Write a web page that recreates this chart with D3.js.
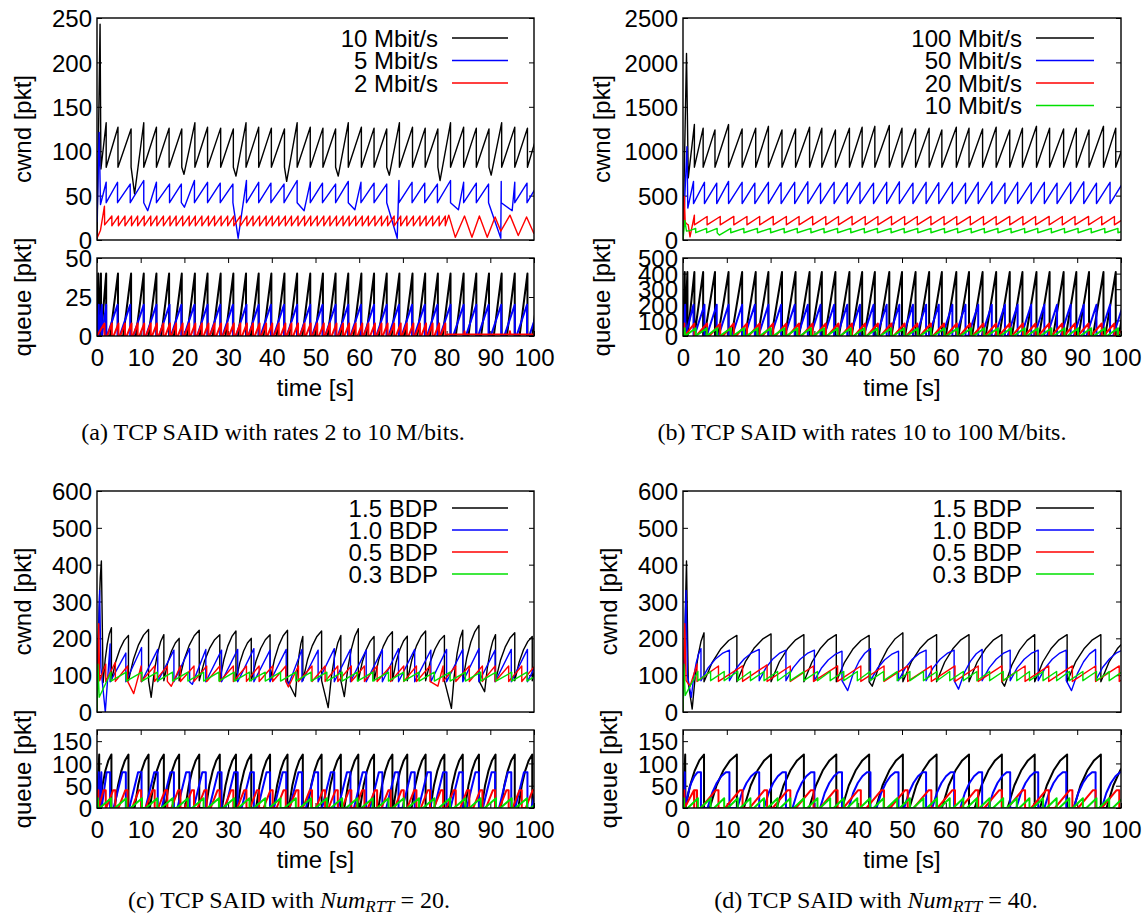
<!DOCTYPE html>
<html><head><meta charset="utf-8">
<script src="https://cdn.jsdelivr.net/npm/d3@7/dist/d3.min.js"></script>
<style>
body{margin:0;background:#fff;}
svg{display:block;}
.tick text{font-family:"Liberation Sans",Arial,sans-serif;font-size:24px;fill:#000;}
</style></head>
<body><svg id="chart" width="1148" height="918"></svg>
<script>
// ---------------- DATA ----------------
const xTicks = [0,10,20,30,40,50,60,70,80,90,100];
const aCwndTicks = [0,50,100,150,200,250];
const aQueueTicks = [0,25,50];
const bCwndTicks = [0,500,1000,1500,2000,2500];
const bQueueTicks = [0,100,200,300,400,500];
const cCwndTicks = [0,100,200,300,400,500,600];
const cQueueTicks = [0,50,100,150];

const aLegend = ["10 Mbit/s","5 Mbit/s","2 Mbit/s"];
const bLegend = ["100 Mbit/s","50 Mbit/s","20 Mbit/s","10 Mbit/s"];
const cLegend = ["1.5 BDP","1.0 BDP","0.5 BDP","0.3 BDP"];

// ---- panel (a) ----
const a10Start = [[0,0],[0.7,243],[0.9,80]];
const a10Drops = [2.1,4.8,7.8,10.7,13.6,16.5,19.4,22.4,25.3,28.3,31.2,34.1,37.0,39.9,42.9,45.8,48.8,51.7,54.6,57.5,60.5,63.4,66.3,69.2,72.2,75.1,78.0,80.9,83.9,86.8,89.7,92.6,95.6,98.5,101.4];
const a10Peaks = [132,127,125,132,127,126,125,132,127,126,125,132,127,126,125,132,127,126,125,132,127,126,125,132,127,126,125,132,127,126,125,132,127,126,130];
const a10Low = [82];
const a10DipT = [8.6,19.9,31.8,43.4,55.2,66.9,78.5,90.2];
const a10DipV = [52,74,72,66,72,73,67,73];

const a5Start = [[0,20],[0.5,121],[0.8,40]];
const a5Drops = [2.1,4.7,7.6,10.7,13.6,16.6,19.3,22.3,25.3,28.2,31.1,34.2,37.0,39.8,42.8,45.8,48.8,51.6,54.6,57.5,60.4,63.4,66.3,69.1,72.1,75.0,77.9,80.9,83.9,86.8,89.6,92.5,95.6,98.4,101.3];
const a5Peaks = [65,65,63,67,65,63,63,67,65,64,63,67,65,64,63,67,65,64,63,66,65,64,63,67,65,64,63,67,65,64,63,66,65,64,66];
const a5Low = [42];
const a5DipT = [11.6,20.0,32.3,47.4,59.0,68.7,82.7,92.4,95.0];
const a5DipV = [33,37,2,33,34,2,34,2,33];

const a2Start = [[0,2],[0.8,11],[1.7,38],[1.75,17]];
const a2Drops = [3.4,4.9,6.4,7.9,9.3,10.8,12.3,13.7,15.2,16.7,18.1,19.6,21.1,22.5,24.0,25.5,26.9,28.4,29.9,31.3,32.8,34.3,35.7,37.2,38.7,40.1,41.6,43.1,44.5,46.0,47.5,48.9,50.4,51.9,53.3,54.8,56.3,57.7,59.2,60.7,62.1,63.6,65.1,66.5,68.0,69.5,70.9,72.4,73.9,75.3,76.8,78.3,79.7];
const a2Peaks = [27];
const a2Low = [16];
const a2Tail = [[80.5,28],[82.0,3],[84.1,27],[85.8,3],[87.5,27],[89.3,3],[91.1,26],[92.4,10],[94.5,28],[96.4,5],[98.3,26],[100,7]];

const a10QStart = [[0,0],[0.3,40],[0.35,0],[0.9,40],[0.95,0]];
const a5QStart = [[0,0],[0.4,20],[0.45,0],[1.1,20],[1.15,0]];
const a2QStart = [[0,0],[1.7,8],[1.75,0]];
const a2QTail = [[80.2,1],[84.0,1],[84.1,3],[84.2,1],[94.4,1],[94.5,3],[94.6,1],[100,1]];
const aQueueMax = [40,20,8];
const aQueueRise = [1.8,2.4,1.1];

// ---- panel (b) ----
const b100Start = [[0,0],[0.8,2100],[1.2,700]];
const b100Drops = [2.6,4.6,7.3,10.4,13.5,16.6,19.5,22.6,25.7,28.9,31.7,34.8,38.0,40.9,43.8,47.1,50.0,53.1,56.2,59.1,62.4,65.3,68.4,71.5,74.6,77.5,80.7,83.7,86.9,89.8,92.7,96.0,98.8,101.9];
const b100Peaks = [1300,1260,1240,1300,1250,1260,1280,1240,1250,1270,1260,1240,1260,1270,1280,1290,1260,1250,1260,1240,1270,1260,1250,1270,1240,1260,1280,1260,1250,1260,1240,1280,1260,1260];
const b100Low = [820];

const b50Start = [[0,0],[0.9,1050],[1.1,360]];
const b50Drops = [2.4,4.9,7.7,10.4,13.5,16.4,19.5,22.4,25.5,28.5,31.4,34.5,37.5,40.4,43.5,46.5,49.4,52.5,55.5,58.4,61.5,64.5,67.4,70.5,73.5,76.4,79.5,82.5,85.4,88.5,91.5,94.4,97.5,100.5];
const b50Peaks = [660,650,640,660,650,640,650,645,650,655,640,650,645,650,640,650,655,640,650,645,650,640,650,655,640,650,645,650,640,650,655,640,650,650];
const b50Low = [410];

const b20Start = [[0,0],[0.3,490],[0.5,200],[0.9,180],[1.2,170],[1.6,35]];
const b20Drops = [2.6,5.5,8.5,11.6,14.6,17.5,20.6,23.6,26.5,29.6,32.6,35.5,38.6,41.6,44.5,47.6,50.6,53.5,56.6,59.6,62.5,65.6,68.6,71.5,74.6,77.6,80.5,83.6,86.6,89.5,92.6,95.6,98.5,101.5];
const b20Peaks = [280,265,265,265,265,265,265,265,265,265,265,265,265,265,265,265,265,265,265,265,265,265,265,265,265,265,265,265,265,265,265,265,265,265];
const b20Low = [170];

const b10Start = [[0,0],[0.4,220],[0.8,100],[1.5,105]];
const b10Drops = [2.9,5.4,7.8,10.9,13.9,17.0,20.0,23.1,26.1,29.2,32.2,35.3,38.3,41.4,44.4,47.5,50.5,53.6,56.6,59.7,62.7,65.8,68.8,71.9,74.9,78.0,81.0,84.1,87.1,90.2,93.2,96.3,99.3,102.4];
const b10Peaks = [130];
const b10Low = [82];
const b10DipT = [8.3];
const b10DipV = [55];

const b100QStart = [[0,0],[0.4,410],[0.45,0],[1.0,410],[1.05,0]];
const b50QStart = [[0,0],[0.5,200],[0.55,0]];
const b20QStart = [[0,0],[0.3,80],[0.35,0]];
const b10QStart = [[0,0],[0.4,50],[0.45,0]];
const bQueueMax = [410,200,80,50];
const bQueueRise = [2.4,2.3,2.5,2.5];

// ---- panel (c) ----
const c15Start = [[0,0],[1.0,410],[1.4,80]];
const c15Drops = [3.3,7.2,11.8,15.3,18.8,23.4,28.1,31.8,35.3,39.6,43.6,47.1,51.4,55.8,59.8,63.4,67.6,71.0,75.2,79.5,83.7,87.4,91.2,95.6,99.6,103.6];
const c15Peaks = [229,208,224,210,200,222,210,220,200,210,222,205,220,208,226,205,218,206,220,208,222,235,210,215,205,210];
const c15Low = [85];
const c15DipT = [12.4,45.4,52.9,56.6,81.1,88.7];
const c15DipV = [40,42,12,42,10,55];

const c10Start = [[0,0],[0.6,330],[0.9,120],[1.9,0]];
const c10Drops = [3.0,6.6,10.2,13.9,17.6,21.2,24.9,28.5,32.2,35.9,39.6,43.3,46.9,50.6,54.3,58.0,61.6,65.3,69.0,72.7,76.4,80.0,83.7,87.4,91.1,94.8,98.5,102.2];
const c10Peaks = [185,160,175,170,168,172,170,168,170,172,168,170,170,168,172,170,168,170,172,170,168,170,170,172,168,170,170,170];
const c10Low = [82];
const c10DipT = [21.8,43.9];
const c10DipV = [75,76];

const c05Start = [[0,0],[0.4,240],[0.6,85]];
const c05Drops = [2.0,4.2,7.0,10.1,13.2,16.1,19.1,22.2,25.1,28.1,31.2,34.2,37.1,40.2,43.2,46.1,49.2,52.2,55.1,58.2,61.2,64.1,67.2,70.2,73.1,76.2,79.2,82.1,85.2,88.2,91.1,94.2,97.2,100.2];
const c05Peaks = [130,135,125,125,125,125,125,125,125,125,125,125,125,125,125,125,125,125,125,125,125,125,125,125,125,125,125,125,125,125,125,125,125,125];
const c05Low = [83];
const c05DipT = [8.4,17.0,43.8,78.0];
const c05DipV = [50,70,68,70];

const c03Start = [[0,0],[0.2,130],[0.5,40]];
const c03Drops = [3.2,6.7,10.3,13.8,17.3,20.8,24.4,27.9,31.4,34.9,38.5,42.0,45.5,49.0,52.6,56.1,59.6,63.1,66.7,70.2,73.7,77.2,80.8,84.3,87.8,91.3,94.9,98.4,101.9];
const c03Peaks = [108];
const c03Low = [84];

const c15QStart = [[0,0],[0.5,120],[0.55,0]];
const c10QStart = [[0,0],[0.4,80],[0.45,0],[1.0,80],[1.05,0]];
const c05QStart = [[0,0],[0.3,40],[0.35,0]];
const c03QStart = [[0,0],[0.2,22],[0.25,0]];
const cQueueMax = [120,80,40,22];
const cQueueRise = [3.2,2.0,1.6,2.6];
const cQueueHold = [0,0.8,0.5,0];

// ---- panel (d) ----
const d15Start = [[0,0],[0.8,410],[1.2,80],[2.1,8]];
const d15Drops = [4.8,12.3,20.1,27.6,35.0,42.5,50.2,57.9,65.3,72.8,80.3,87.7,95.4,102.9];
const d15Peaks = [215,208,212,210,210,208,215,210,210,210,210,210,210,210];
const d15Low = [82];
const d15DipT = [43.2,73.4];
const d15DipV = [70,70];

const d10Start = [[0,0],[0.7,330],[1.0,100],[1.9,40]];
const d10Drops = [4.1,10.6,17.4,23.5,30.0,36.3,42.8,49.2,55.5,61.9,68.3,74.7,81.1,87.5,94.2,100.6];
const d10Peaks = [172,168,170,168,168,165,172,165,168,168,170,168,168,168,170,170];
const d10Low = [85];
const d10DipT = [37.6,62.9,88.7];
const d10DipV = [58,62,58];

const d05Start = [[0,0],[0.4,240],[0.7,85],[1.6,70]];
const d05Drops = [3.2,8.1,13.6,19.2,24.5,29.8,35.3,40.6,45.9,51.3,56.7,62.1,67.4,72.8,78.1,83.5,88.9,94.2,99.6,105.0];
const d05Peaks = [130,125,125,128,125,125,125,125,125,125,125,125,125,125,125,125,125,125,125,125];
const d05Low = [83];

const d03Start = [[0,0],[0.2,130],[0.5,45]];
const d03Drops = [3.4,6.3,9.4,12.5,15.4,18.5,21.6,24.5,27.6,30.7,33.6,36.7,39.8,42.7,45.8,48.9,51.8,54.9,58.0,60.9,64.0,67.1,70.0,73.1,76.2,79.1,82.2,85.3,88.2,91.3,94.4,97.3,100.4];
const d03Peaks = [110];
const d03Low = [85];

const d15QStart = [[0,0],[0.5,120],[0.55,0]];
const d10QStart = [[0,0],[0.4,80],[0.45,0]];
const d05QStart = [[0,0],[0.3,40],[0.35,0],[2.5,40],[2.55,0]];
const d03QStart = [[0,0],[0.2,22],[0.25,0]];
const dQueueMax = [120,80,40,22];
const dQueueRise = [6.2,4.2,3.4,2.3];
const dQueueHold = [0,0.8,0.6,0];

// concave growth of a tooth (fraction of tooth time -> fraction of rise), read from (c)/(d)
const concaveShape = [[0.25,0.42],[0.5,0.7],[0.75,0.89]];

const seriesColors = ["#000000","#0000ff","#ff0000","#00e000"];

// ---------------- helpers ----------------
function pick(arr,i){ return arr.length===1 ? arr[0] : arr[i]; }
function shapeRises(pts, shape){
  if(!shape) return pts;
  const out=[pts[0]];
  for(let i=1;i<pts.length;i++){
    const p=pts[i-1], q=pts[i];
    if(q.v>p.v && q.t-p.t>0.8){
      shape.forEach(s=>out.push({t:p.t+s[0]*(q.t-p.t), v:p.v+s[1]*(q.v-p.v)}));
    }
    out.push(q);
  }
  return out;
}
function cwndPoints(start, drops, peaks, lows, dipT, dipV, tail, shape){
  const pts = start.map(p=>({t:p[0],v:p[1]}));
  drops.forEach((d,i)=>{
    pts.push({t:d,v:pick(peaks,i)});
    pts.push({t:d+0.001,v:pick(lows,i)});
  });
  (dipT||[]).forEach((t,i)=>pts.push({t:t,v:dipV[i]}));
  (tail||[]).forEach(p=>pts.push({t:p[0],v:p[1]}));
  pts.sort((a,b)=>a.t-b.t);
  return shapeRises(pts, shape);
}
function queuePoints(start, drops, qmax, rise, hold, tail, shape){
  const pts = start.map(p=>({t:p[0],v:p[1]}));
  let prev = start.length ? start[start.length-1][0] : 0;
  drops.forEach(d=>{
    const s = Math.max(d-hold-rise, prev+0.002);
    pts.push({t:s,v:0});
    pts.push({t:d-hold,v:qmax});
    if(hold>0) pts.push({t:d,v:qmax});
    pts.push({t:d+0.001,v:0});
    prev = d+0.001;
  });
  (tail||[]).forEach(p=>pts.push({t:p[0],v:p[1]}));
  return shapeRises(pts, shape);
}

// ---------------- layout ----------------
const svg = d3.select("#chart");
const FONT = '"Liberation Sans",Arial,sans-serif';
const SERIF = '"Liberation Serif","Times New Roman",serif';
const FS = 24;

const panels = [
 {id:"a", x0:97, x1:534, cTop:18, cBot:240, qTop:258, qBot:336, xLabY:357, timeY:387, capX:273, capY:431, yLabX:22,
  cDom:[0,250], cTicks:aCwndTicks, qDom:[0,50], qTicks:aQueueTicks, legend:aLegend, legTextX:438, legL1:452, legL2:508, legY0:38, legDy:22.5,
  cw:[cwndPoints(a10Start,a10Drops,a10Peaks,a10Low,a10DipT,a10DipV),
      cwndPoints(a5Start,a5Drops,a5Peaks,a5Low,a5DipT,a5DipV),
      cwndPoints(a2Start,a2Drops,a2Peaks,a2Low,[],[],a2Tail)],
  q:[queuePoints(a10QStart,a10Drops,aQueueMax[0],aQueueRise[0],0),
     queuePoints(a5QStart,a5Drops,aQueueMax[1],aQueueRise[1],0),
     queuePoints(a2QStart,a2Drops,aQueueMax[2],aQueueRise[2],0,a2QTail)],
  caption:[{t:"(a) TCP SAID with rates 2 to 10\u2009M/bits."}]},
 {id:"b", x0:683, x1:1121, cTop:18, cBot:240, qTop:258, qBot:336, xLabY:357, timeY:387, capX:862, capY:431, yLabX:601,
  cDom:[0,2500], cTicks:bCwndTicks, qDom:[0,500], qTicks:bQueueTicks, legend:bLegend, legTextX:1022, legL1:1036, legL2:1094, legY0:38, legDy:22.5,
  cw:[cwndPoints(b100Start,b100Drops,b100Peaks,b100Low),
      cwndPoints(b50Start,b50Drops,b50Peaks,b50Low),
      cwndPoints(b20Start,b20Drops,b20Peaks,b20Low),
      cwndPoints(b10Start,b10Drops,b10Peaks,b10Low,b10DipT,b10DipV)],
  q:[queuePoints(b100QStart,b100Drops,bQueueMax[0],bQueueRise[0],0),
     queuePoints(b50QStart,b50Drops,bQueueMax[1],bQueueRise[1],0),
     queuePoints(b20QStart,b20Drops,bQueueMax[2],bQueueRise[2],0),
     queuePoints(b10QStart,b10Drops,bQueueMax[3],bQueueRise[3],0)],
  caption:[{t:"(b) TCP SAID with rates 10 to 100\u2009M/bits."}]},
 {id:"c", x0:97, x1:534, cTop:491, cBot:712, qTop:730, qBot:808, xLabY:829, timeY:859, capX:289, capY:899, yLabX:22,
  cDom:[0,600], cTicks:cCwndTicks, qDom:[0,175], qTicks:cQueueTicks, legend:cLegend, legTextX:438, legL1:452, legL2:508, legY0:508, legDy:22,
  cw:[cwndPoints(c15Start,c15Drops,c15Peaks,c15Low,c15DipT,c15DipV,null,concaveShape),
      cwndPoints(c10Start,c10Drops,c10Peaks,c10Low,c10DipT,c10DipV),
      cwndPoints(c05Start,c05Drops,c05Peaks,c05Low,c05DipT,c05DipV),
      cwndPoints(c03Start,c03Drops,c03Peaks,c03Low)],
  q:[queuePoints(c15QStart,c15Drops,cQueueMax[0],cQueueRise[0],cQueueHold[0],null,concaveShape),
     queuePoints(c10QStart,c10Drops,cQueueMax[1],cQueueRise[1],cQueueHold[1]),
     queuePoints(c05QStart,c05Drops,cQueueMax[2],cQueueRise[2],cQueueHold[2]),
     queuePoints(c03QStart,c03Drops,cQueueMax[3],cQueueRise[3],cQueueHold[3])],
  caption:[{t:"(c) TCP SAID with "},{t:"Num",it:true},{t:"RTT",it:true,sub:true},{t:" = 20."}]},
 {id:"d", x0:683, x1:1121, cTop:491, cBot:712, qTop:730, qBot:808, xLabY:829, timeY:859, capX:876, capY:899, yLabX:608,
  cDom:[0,600], cTicks:cCwndTicks, qDom:[0,175], qTicks:cQueueTicks, legend:cLegend, legTextX:1022, legL1:1036, legL2:1094, legY0:508, legDy:22,
  cw:[cwndPoints(d15Start,d15Drops,d15Peaks,d15Low,d15DipT,d15DipV,null,concaveShape),
      cwndPoints(d10Start,d10Drops,d10Peaks,d10Low,d10DipT,d10DipV,null,concaveShape),
      cwndPoints(d05Start,d05Drops,d05Peaks,d05Low),
      cwndPoints(d03Start,d03Drops,d03Peaks,d03Low)],
  q:[queuePoints(d15QStart,d15Drops,dQueueMax[0],dQueueRise[0],dQueueHold[0],null,concaveShape),
     queuePoints(d10QStart,d10Drops,dQueueMax[1],dQueueRise[1],dQueueHold[1],null,concaveShape),
     queuePoints(d05QStart,d05Drops,dQueueMax[2],dQueueRise[2],dQueueHold[2]),
     queuePoints(d03QStart,d03Drops,dQueueMax[3],dQueueRise[3],dQueueHold[3])],
  caption:[{t:"(d) TCP SAID with "},{t:"Num",it:true},{t:"RTT",it:true,sub:true},{t:" = 40."}]}
];

const defs = svg.append("defs");

panels.forEach(P=>{
  const x = d3.scaleLinear().domain([0,100]).range([P.x0,P.x1]);
  const yc = d3.scaleLinear().domain(P.cDom).range([P.cBot,P.cTop]);
  const yq = d3.scaleLinear().domain(P.qDom).range([P.qBot,P.qTop]);
  const g = svg.append("g");

  defs.append("clipPath").attr("id","cc"+P.id).append("rect")
    .attr("x",P.x0).attr("y",P.cTop).attr("width",P.x1-P.x0).attr("height",P.cBot-P.cTop);
  defs.append("clipPath").attr("id","cq"+P.id).append("rect")
    .attr("x",P.x0).attr("y",P.qTop).attr("width",P.x1-P.x0).attr("height",P.qBot-P.qTop);

  const line = ys => d3.line().x(d=>x(d.t)).y(d=>ys(d.v));

  const axL = g.append("g").attr("transform",`translate(${P.x0},0)`)
    .call(d3.axisLeft(yc).tickValues(P.cTicks).tickSize(-5).tickPadding(5).tickFormat(d3.format("d")));
  const axR = g.append("g").attr("transform",`translate(${P.x1},0)`)
    .call(d3.axisRight(yc).tickValues(P.cTicks).tickSize(-5).tickFormat(""));
  const aqL = g.append("g").attr("transform",`translate(${P.x0},0)`)
    .call(d3.axisLeft(yq).tickValues(P.qTicks).tickSize(-5).tickPadding(5).tickFormat(d3.format("d")));
  const aqR = g.append("g").attr("transform",`translate(${P.x1},0)`)
    .call(d3.axisRight(yq).tickValues(P.qTicks).tickSize(-5).tickFormat(""));
  const aqB = g.append("g").attr("transform",`translate(0,${P.qBot})`)
    .call(d3.axisBottom(x).tickValues(xTicks).tickSize(-5).tickPadding(0).tickFormat(d3.format("d")));
  const aqT = g.append("g").attr("transform",`translate(0,${P.qTop})`)
    .call(d3.axisTop(x).tickValues(xTicks).tickSize(-5).tickFormat(""));
  [axL,axR,aqL,aqR,aqB,aqT].forEach(a=>{
    a.select(".domain").remove();
    a.selectAll(".tick line").attr("stroke","#000").attr("stroke-width",1);
  });
  aqB.selectAll(".tick text").attr("y",null).attr("dy","0.36em")
     .attr("transform",`translate(0,${P.xLabY-P.qBot})`);
  [axL,aqL].forEach(a=>a.selectAll(".tick text").attr("dy","0.36em"));

  const gc = g.append("g").attr("clip-path",`url(#cc${P.id})`);
  P.cw.forEach((pts,i)=>{
    gc.append("path").datum(pts).attr("d",line(yc)).attr("fill","none")
      .attr("stroke",seriesColors[i]).attr("stroke-width",1.4).attr("stroke-linejoin","round");
  });
  const gq = g.append("g").attr("clip-path",`url(#cq${P.id})`);
  P.q.forEach((pts,i)=>{
    gq.append("path").datum(pts).attr("d",line(yq)).attr("fill","none")
      .attr("stroke",seriesColors[i]).attr("stroke-width",2).attr("stroke-linejoin","round");
  });

  g.append("rect").attr("x",P.x0).attr("y",P.cTop).attr("width",P.x1-P.x0).attr("height",P.cBot-P.cTop)
    .attr("fill","none").attr("stroke","#000").attr("stroke-width",1.4);
  g.append("rect").attr("x",P.x0).attr("y",P.qTop).attr("width",P.x1-P.x0).attr("height",P.qBot-P.qTop)
    .attr("fill","none").attr("stroke","#000").attr("stroke-width",1.4);

  P.legend.forEach((lab,i)=>{
    const yy = P.legY0 + i*P.legDy;
    g.append("text").attr("x",P.legTextX).attr("y",yy).attr("dy","0.36em")
      .attr("text-anchor","end").attr("font-family",FONT).attr("font-size",FS).text(lab);
    g.append("line").attr("x1",P.legL1).attr("x2",P.legL2).attr("y1",yy).attr("y2",yy)
      .attr("stroke",seriesColors[i]).attr("stroke-width",1.6);
  });

  g.append("text").attr("transform",`translate(${P.yLabX},${(P.cTop+P.cBot)/2}) rotate(-90)`)
    .attr("text-anchor","middle").attr("dy","0.36em").attr("font-family",FONT).attr("font-size",FS).text("cwnd [pkt]");
  g.append("text").attr("transform",`translate(${P.yLabX},${(P.qTop+P.qBot)/2}) rotate(-90)`)
    .attr("text-anchor","middle").attr("dy","0.36em").attr("font-family",FONT).attr("font-size",FS).text("queue [pkt]");
  g.append("text").attr("x",(P.x0+P.x1)/2).attr("y",P.timeY).attr("dy","0.36em")
    .attr("text-anchor","middle").attr("font-family",FONT).attr("font-size",FS).text("time [s]");

  const cap = g.append("text").attr("x",P.capX).attr("y",P.capY).attr("dy","0.36em")
    .attr("text-anchor","middle").attr("font-family",SERIF).attr("font-size",24);
  P.caption.forEach(s=>{
    const ts = cap.append("tspan").text(s.t);
    if(s.it) ts.attr("font-style","italic");
    if(s.sub) ts.attr("font-size",17).attr("dy","0.25em");
    else if(s.t.startsWith(" =")) ts.attr("dy","-0.18em");
  });
});
</script></body></html>
